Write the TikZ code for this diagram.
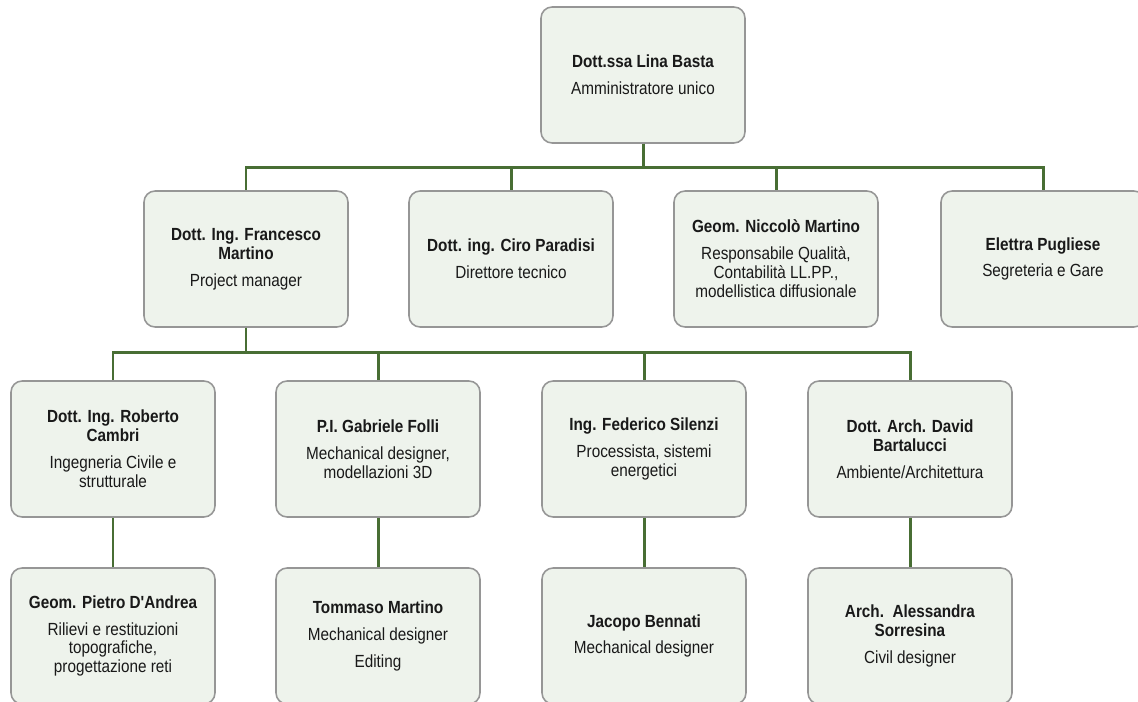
\documentclass[tikz,border=0pt]{standalone}
\usepackage{fontspec}
\setmainfont{Liberation Sans}[FakeStretch=0.87, Ligatures=TeXOff]
\definecolor{boxfill}{RGB}{238,243,236}
\definecolor{boxline}{RGB}{150,150,150}
\definecolor{linkgreen}{RGB}{72,110,52}
\definecolor{txt}{RGB}{25,25,25}
\tikzset{
	person/.style={draw=boxline, line width=0.9pt, fill=boxfill, rounded corners=0.22cm,
		minimum width=4.08cm, minimum height=2.72cm, align=center, text=txt,
		font=\fontsize{10}{10.8}\selectfont, inner sep=2pt},
	link/.style={draw=linkgreen, line width=1.7pt}
}
\begin{document}
\begin{tikzpicture}[x=0.02cm,y=-0.02cm]
	\useasboundingbox (0,0) rectangle (1138,702);
	
	% vertice
	\node[person] (lb) at (643,75) {\textbf{Dott.ssa Lina Basta}\\[4.5pt]Amministratore unico};
	
	% secondo livello
	\node[person] (fm) at (246,259) {\textbf{Dott. Ing. Francesco}\\\textbf{Martino}\\[4.5pt]Project manager};
	\node[person] (cp) at (511,259) {\textbf{Dott. ing. Ciro Paradisi}\\[4.5pt]Direttore tecnico};
	\node[person] (nm) at (776,259) {\textbf{Geom. Niccolò Martino}\\[4.5pt]Responsabile Qualità,\\Contabilità LL.PP.,\\modellistica diffusionale};
	\node[person] (ep) at (1043,259) {\textbf{Elettra Pugliese}\\[4.5pt]Segreteria e Gare};
	
	% terzo livello
	\node[person] (rc) at (113,449) {\textbf{Dott. Ing. Roberto}\\\textbf{Cambri}\\[4.5pt]Ingegneria Civile e\\strutturale};
	\node[person] (gf) at (378,449) {\textbf{P.I. Gabriele Folli}\\[4.5pt]Mechanical designer,\\modellazioni 3D};
	\node[person] (fs) at (644,449) {\textbf{Ing. Federico Silenzi}\\[4.5pt]Processista, sistemi\\energetici};
	\node[person] (db) at (910,449) {\textbf{Dott. Arch. David}\\\textbf{Bartalucci}\\[4.5pt]Ambiente/Architettura};
	
	% quarto livello
	\node[person] (pd) at (113,636) {\textbf{Geom. Pietro D'Andrea}\\[4.5pt]Rilievi e restituzioni\\topografiche,\\progettazione reti};
	\node[person] (tm) at (378,636) {\textbf{Tommaso Martino}\\[4.5pt]Mechanical designer\\[4.5pt]Editing};
	\node[person] (jb) at (644,636) {\textbf{Jacopo Bennati}\\[4.5pt]Mechanical designer};
	\node[person] (as) at (910,636) {\textbf{Arch.\ \ Alessandra}\\\textbf{Sorresina}\\[4.5pt]Civil designer};
	
	% collegamenti
	\foreach \n in {fm,cp,nm,ep}
		\draw[link] (lb.south) -- ++(0,24) -| (\n.north);
	\foreach \n in {rc,gf,fs,db}
		\draw[link] (fm.south) -- ++(0,25) -| (\n.north);
	\draw[link] (rc.south) -- (pd.north);
	\draw[link] (gf.south) -- (tm.north);
	\draw[link] (fs.south) -- (jb.north);
	\draw[link] (db.south) -- (as.north);
\end{tikzpicture}
\end{document}
